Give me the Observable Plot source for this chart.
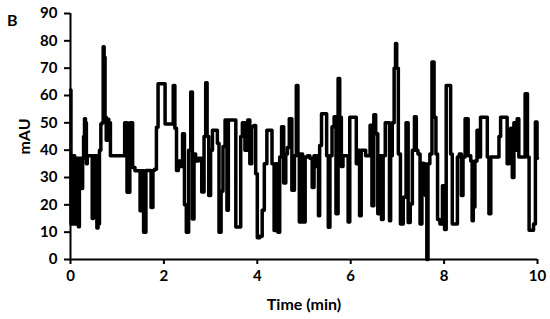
<!DOCTYPE html>
<html>
<head>
<meta charset="utf-8">
<script src="https://cdn.jsdelivr.net/npm/d3@7"></script>
<script src="https://cdn.jsdelivr.net/npm/@observablehq/plot@0.6"></script>
<style>
  html, body { margin: 0; padding: 0; background: #fff; }
  #chart { position: relative; width: 550px; height: 319px; }
  #panel { position: absolute; left: 7px; top: 10px; font: bold 16px Lato, "Open Sans", sans-serif; }
</style>
</head>
<body>
<div id="chart"><div id="panel">B</div></div>
<script>
const time = [0.00,0.02,0.04,0.06,0.08,0.10,0.12,0.16,0.18,0.20,0.24,0.25,0.27,0.29,0.31,0.33,0.35,0.37,0.45,0.48,0.50,0.55,0.58,0.60,0.64,0.66,0.69,0.71,0.73,0.75,0.78,0.80,0.84,0.87,1.14,1.18,1.24,1.30,1.36,1.40,1.48,1.50,1.53,1.60,1.63,1.70,1.75,1.78,1.82,1.86,1.89,2.00,2.05,2.18,2.22,2.25,2.29,2.33,2.38,2.42,2.46,2.50,2.56,2.59,2.63,2.66,2.70,2.78,2.84,2.88,2.91,2.94,2.98,3.02,3.06,3.13,3.16,3.20,3.25,3.28,3.34,3.36,3.40,3.52,3.56,3.63,3.66,3.70,3.77,3.82,3.86,3.90,3.95,3.98,4.02,4.09,4.12,4.18,4.23,4.30,4.33,4.39,4.42,4.46,4.50,4.54,4.59,4.63,4.66,4.71,4.77,4.82,4.85,4.89,4.91,4.94,5.00,5.05,5.10,5.15,5.20,5.23,5.27,5.30,5.32,5.35,5.40,5.47,5.50,5.54,5.57,5.63,5.66,5.71,5.75,5.78,5.82,5.85,5.93,5.96,6.00,6.10,6.14,6.17,6.21,6.24,6.40,6.43,6.48,6.51,6.56,6.60,6.64,6.68,6.71,6.77,6.82,6.84,6.87,6.91,6.95,6.97,7.00,7.04,7.09,7.16,7.21,7.25,7.30,7.34,7.39,7.42,7.46,7.51,7.54,7.58,7.62,7.64,7.67,7.72,7.76,7.81,7.84,7.88,7.94,7.99,8.03,8.06,8.12,8.16,8.19,8.27,8.30,8.35,8.39,8.42,8.48,8.55,8.59,8.61,8.64,8.68,8.73,8.76,8.80,8.91,8.94,8.98,9.02,9.16,9.19,9.23,9.33,9.37,9.41,9.44,9.48,9.51,9.55,9.58,9.62,9.70,9.77,9.80,9.84,9.90,9.93,9.98,10.00];
const mAU = [62,13,38,13,38,13,37,37,12,37,37,26,37,45,51.5,50,35,38,38,15,38,38,11.5,13,40,49.6,50,77.8,74,52,43.6,51.3,50,38,38,50,24.6,50,33.7,32.5,32.5,17.8,32.5,10,32.6,32.6,19,32.6,33,48.4,64.3,64.3,49.6,49.6,63.7,48,32.6,36,34,46,20,10,40,61.3,14.8,38.6,36,37,24.7,45,64.7,45,23.4,40,47.3,47.3,42.5,10,25,41.3,51,18,51,51,11.9,11.9,45,50,40,51,35,48.6,49,31.4,8,8.5,18,35,47.3,47.3,35,10.6,35,10,37.5,48.6,28,38.6,41,51.5,25.3,38,63.7,38,13.7,38.6,13.7,37.5,38,37,26.3,38,34,38,16,41.7,53.3,53.3,38,11.8,38,48.6,52.2,16.7,66.2,52,34,38,38,13.7,52,52,35,40,16,40,38,49.1,19.7,53,46,16.7,38,14.6,38,50,50,14.2,38,50,70,79,70,38.6,13,22.8,50,13.5,20.3,40,52.2,40,38.6,13,35.2,35,23.4,0,35,38.6,72.3,52,38.6,14.6,13,27,11,63.7,63.7,38.6,13,13,37.5,38.6,23.4,37.5,51.5,38,36,14.2,19.2,36,47.3,37.5,52,52,37.5,16.7,37.5,37.5,45,52,52,35,38.6,48,30,50,40,51.5,37.5,37.5,60.6,37.5,10.7,10.7,13,50.3,37];
const xTicks = [0, 2, 4, 6, 8, 10];
const yTicks = [0, 10, 20, 30, 40, 50, 60, 70, 80, 90];

const data = time.map((t, i) => ({t, v: mAU[i]}));

const chart = Plot.plot({
  width: 550,
  height: 319,
  marginLeft: 70,
  marginRight: 13,
  marginTop: 13,
  marginBottom: 60,
  style: {fontFamily: "Lato, 'Open Sans', sans-serif", fontWeight: "bold", fontSize: "15px", color: "#000", background: "transparent"},
  x: {domain: [0, 10]},
  y: {domain: [0, 90]},
  marks: [
    Plot.axisY({ticks: yTicks, tickSize: 6, tickPadding: 7, strokeWidth: 2, fontSize: 15, fontWeight: "bold", label: null}),
    Plot.axisY({ticks: [], label: "mAU", labelAnchor: "center", labelArrow: "none", labelOffset: 52, fontSize: 16, fontWeight: "bold"}),
    Plot.axisX({ticks: xTicks, tickSize: 5, tickPadding: 6, strokeWidth: 2, fontSize: 15, fontWeight: "bold", label: null}),
    Plot.axisX({ticks: [], label: "Time (min)", labelAnchor: "center", labelArrow: "none", labelOffset: 50, fontSize: 16, fontWeight: "bold"}),
    Plot.ruleX([0], {strokeWidth: 2}),
    Plot.ruleY([0], {strokeWidth: 2}),
    Plot.line(data, {x: "t", y: "v", stroke: "#000", strokeWidth: 3.5, strokeLinejoin: "round", curve: "step"})
  ]
});
document.getElementById("chart").appendChild(chart);
chart.style.position = "absolute";
chart.style.left = "0px";
chart.style.top = "0px";
</script>
</body>
</html>
